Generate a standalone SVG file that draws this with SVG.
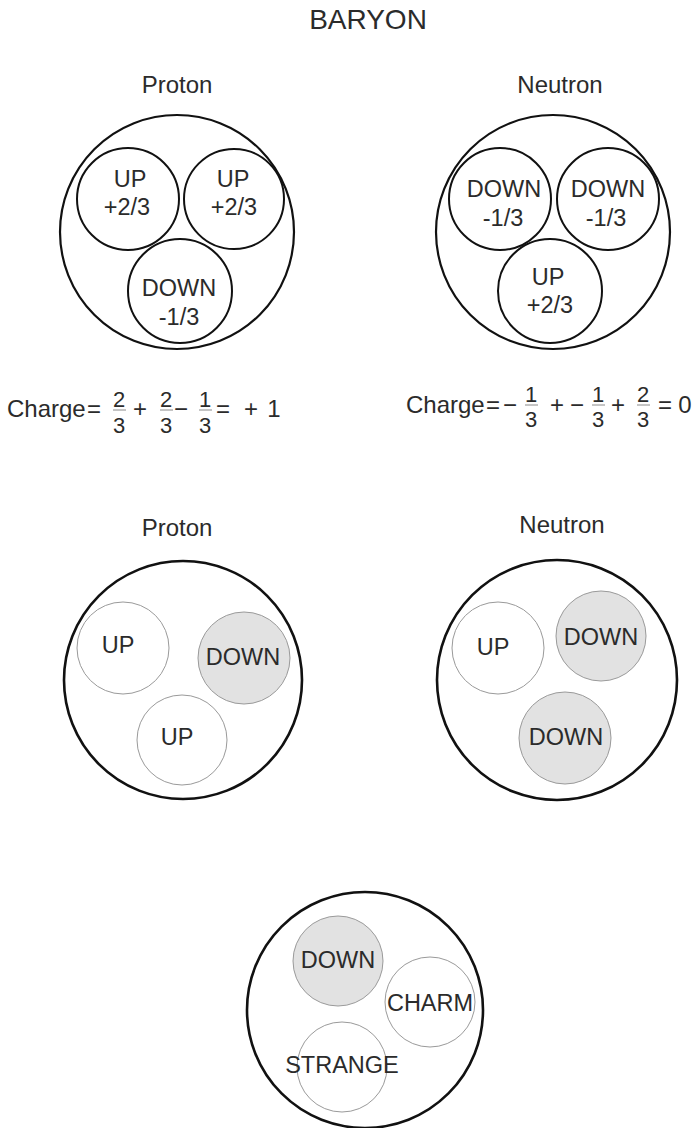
<svg xmlns="http://www.w3.org/2000/svg" width="695" height="1128" viewBox="0 0 695 1128">
<style>
text{font-family:"Liberation Sans",Arial,sans-serif;fill:#2b2b2b;text-anchor:middle}
.title{font-size:28px}
.sub{font-size:24px}
.q{font-size:23.5px}
.eq{font-size:24px}
.fr{font-size:22px}
.outer{fill:none;stroke:#111;stroke-width:2.2}
.outer2{fill:none;stroke:#111;stroke-width:2.6}
.qa{fill:#fff;stroke:#111;stroke-width:2}
.qw{fill:#fff;stroke:#9a9a9a;stroke-width:1}
.qg{fill:#e2e2e2;stroke:#9a9a9a;stroke-width:1}
.bar{stroke:#8a8a8a;stroke-width:1}
</style>
<rect width="695" height="1128" fill="#fff"/>
<text class="title" x="368" y="29">BARYON</text>

<g id="proton1">
<text class="sub" x="177" y="93">Proton</text>
<circle class="outer" cx="177" cy="232" r="117"/>
<circle class="qa" cx="128" cy="199" r="51"/>
<circle class="qa" cx="234" cy="199" r="50"/>
<circle class="qa" cx="180" cy="291" r="52"/>
<text class="q" x="130" y="187">UP</text>
<text class="q" x="127" y="215">+2/3</text>
<text class="q" x="233" y="187">UP</text>
<text class="q" x="234" y="215">+2/3</text>
<text class="q" x="179" y="296">DOWN</text>
<text class="q" x="179" y="325">-1/3</text>
</g>

<g id="neutron1">
<text class="sub" x="560" y="93">Neutron</text>
<circle class="outer" cx="553" cy="232" r="117"/>
<circle class="qa" cx="500" cy="199" r="51"/>
<circle class="qa" cx="608" cy="199" r="51"/>
<circle class="qa" cx="550" cy="291" r="52"/>
<text class="q" x="504" y="197">DOWN</text>
<text class="q" x="503" y="226">-1/3</text>
<text class="q" x="608" y="197">DOWN</text>
<text class="q" x="606" y="226">-1/3</text>
<text class="q" x="548" y="285">UP</text>
<text class="q" x="550" y="313">+2/3</text>
</g>

<g id="charge-proton">
<text class="eq" x="7" y="417" style="text-anchor:start">Charge</text>
<text class="eq" x="94" y="417">=</text>
<text class="fr" x="119" y="407">2</text><line class="bar" x1="113" y1="410" x2="126" y2="410"/><text class="fr" x="119" y="433">3</text>
<text class="eq" x="140" y="417">+</text>
<text class="fr" x="166" y="407">2</text><line class="bar" x1="160" y1="410" x2="173" y2="410"/><text class="fr" x="166" y="433">3</text>
<text class="eq" x="181" y="417">−</text>
<text class="fr" x="205" y="407">1</text><line class="bar" x1="199" y1="410" x2="212" y2="410"/><text class="fr" x="205" y="433">3</text>
<text class="eq" x="223" y="417">=</text>
<text class="eq" x="251" y="417">+</text>
<text class="eq" x="274" y="417">1</text>
</g>

<g id="charge-neutron">
<text class="eq" x="406" y="413" style="text-anchor:start">Charge</text>
<text class="eq" x="493" y="413">=</text>
<text class="eq" x="510" y="413">−</text>
<text class="fr" x="531" y="402">1</text><line class="bar" x1="525" y1="405" x2="538" y2="405"/><text class="fr" x="531" y="427">3</text>
<text class="eq" x="557" y="413">+</text>
<text class="eq" x="577" y="413">−</text>
<text class="fr" x="598" y="402">1</text><line class="bar" x1="592" y1="405" x2="605" y2="405"/><text class="fr" x="598" y="427">3</text>
<text class="eq" x="618" y="413">+</text>
<text class="fr" x="643" y="402">2</text><line class="bar" x1="637" y1="405" x2="650" y2="405"/><text class="fr" x="643" y="427">3</text>
<text class="eq" x="665" y="413">=</text>
<text class="eq" x="685" y="413">0</text>
</g>

<g id="proton2">
<text class="sub" x="177" y="536">Proton</text>
<circle class="outer2" cx="183" cy="680" r="119"/>
<circle class="qw" cx="123" cy="648" r="46"/>
<circle class="qg" cx="244" cy="658" r="46"/>
<circle class="qw" cx="182" cy="740" r="45"/>
<text class="q" x="118" y="653">UP</text>
<text class="q" x="243" y="665">DOWN</text>
<text class="q" x="177" y="745">UP</text>
</g>

<g id="neutron2">
<text class="sub" x="562" y="533">Neutron</text>
<circle class="outer2" cx="557" cy="680" r="120"/>
<circle class="qw" cx="498" cy="648" r="46"/>
<circle class="qg" cx="601" cy="636" r="45"/>
<circle class="qg" cx="565" cy="738" r="46"/>
<text class="q" x="493" y="655">UP</text>
<text class="q" x="601" y="645">DOWN</text>
<text class="q" x="566" y="745">DOWN</text>
</g>

<g id="baryon3">
<circle class="outer2" cx="365" cy="1010" r="118"/>
<circle class="qg" cx="338" cy="961" r="45"/>
<circle class="qw" cx="430" cy="1002" r="45"/>
<circle class="qw" cx="342" cy="1067" r="45"/>
<text class="q" x="338" y="968">DOWN</text>
<text class="q" x="430" y="1011">CHARM</text>
<text class="q" x="342" y="1073">STRANGE</text>
</g>

<g id="connectors"></g>
</svg>
